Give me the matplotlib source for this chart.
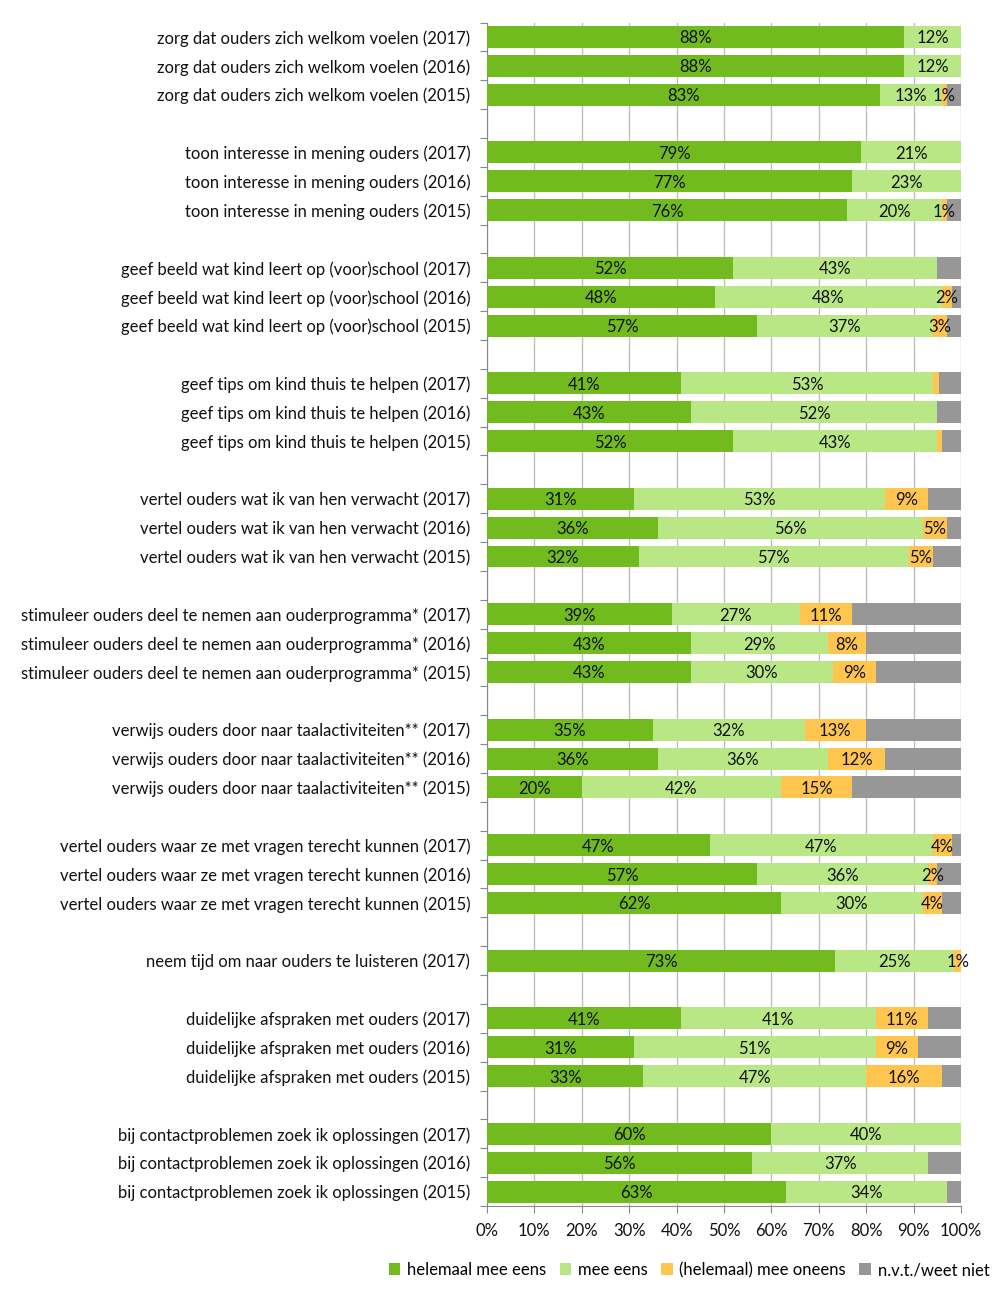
import matplotlib
matplotlib.use("Agg")
import matplotlib.pyplot as plt
from matplotlib.patches import Patch

plt.rcParams['font.family'] = ['Lato', 'DejaVu Sans']

# stellingen, per jaar (boven naar beneden); None = lege tussenregel
categories = [
    "zorg dat ouders zich welkom voelen (2017)",
    "zorg dat ouders zich welkom voelen (2016)",
    "zorg dat ouders zich welkom voelen (2015)",
    None,
    "toon interesse in mening ouders (2017)",
    "toon interesse in mening ouders (2016)",
    "toon interesse in mening ouders (2015)",
    None,
    "geef beeld wat kind leert op (voor)school (2017)",
    "geef beeld wat kind leert op (voor)school (2016)",
    "geef beeld wat kind leert op (voor)school (2015)",
    None,
    "geef tips om kind thuis te helpen (2017)",
    "geef tips om kind thuis te helpen (2016)",
    "geef tips om kind thuis te helpen (2015)",
    None,
    "vertel ouders wat ik van hen verwacht (2017)",
    "vertel ouders wat ik van hen verwacht (2016)",
    "vertel ouders wat ik van hen verwacht (2015)",
    None,
    "stimuleer ouders deel te nemen aan ouderprogramma* (2017)",
    "stimuleer ouders deel te nemen aan ouderprogramma* (2016)",
    "stimuleer ouders deel te nemen aan ouderprogramma* (2015)",
    None,
    "verwijs ouders door naar taalactiviteiten** (2017)",
    "verwijs ouders door naar taalactiviteiten** (2016)",
    "verwijs ouders door naar taalactiviteiten** (2015)",
    None,
    "vertel ouders waar ze met vragen terecht kunnen (2017)",
    "vertel ouders waar ze met vragen terecht kunnen (2016)",
    "vertel ouders waar ze met vragen terecht kunnen (2015)",
    None,
    "neem tijd om naar ouders te luisteren (2017)",
    None,
    "duidelijke afspraken met ouders (2017)",
    "duidelijke afspraken met ouders (2016)",
    "duidelijke afspraken met ouders (2015)",
    None,
    "bij contactproblemen zoek ik oplossingen (2017)",
    "bij contactproblemen zoek ik oplossingen (2016)",
    "bij contactproblemen zoek ik oplossingen (2015)",
]

# percentages (alleen de echte regels, zelfde volgorde)
helemaal_eens = [88, 88, 83, 79, 77, 76, 52, 48, 57, 41, 43, 52, 31, 36, 32,
                 39, 43, 43, 35, 36, 20, 47, 57, 62, 73.4, 41, 31, 33, 60, 56, 63]
mee_eens = [12, 12, 13, 21, 23, 20, 43, 48, 37, 53, 52, 43, 53, 56, 57,
            27, 29, 30, 32, 36, 42, 47, 36, 30, 25.2, 41, 51, 47, 40, 37, 34]
oneens = [0, 0, 1, 0, 0, 1, 0, 2, 3, 1.4, 0, 1, 9, 5, 5,
          11, 8, 9, 13, 12, 15, 4, 2, 4, 1.4, 11, 9, 16, 0, 0, 0]
nvt = [0, 0, 3, 0, 0, 3, 5, 2, 3, 4.6, 5, 4, 7, 3, 6,
       23, 20, 18, 20, 16, 23, 2, 5, 4, 0, 7, 9, 4, 0, 7, 3]
# oneens-labels die in de bron ontbreken
oneens_zonder_label = [9, 11]

series = [
    ("helemaal mee eens", helemaal_eens, "#72BB1F"),
    ("mee eens", mee_eens, "#B9E786"),
    ("(helemaal) mee oneens", oneens, "#FFC54F"),
    ("n.v.t./weet niet", nvt, "#979797"),
]

fig = plt.figure(figsize=(10.05, 13.01), dpi=100)
ax = fig.add_axes([487/1005, 1 - 1206/1301, (961-487)/1005, (1206-22.5)/1301])

n = len(categories)
rows = [i for i, c in enumerate(categories) if c is not None]

left = [0.0] * len(rows)
for s_idx, (name, vals, col) in enumerate(series):
    ax.barh(rows, vals, left=left, height=0.76, color=col, zorder=3)
    if s_idx < 3:
        for k, (y, v, l) in enumerate(zip(rows, vals, left)):
            if v <= 0:
                continue
            if s_idx == 2 and k in oneens_zonder_label:
                continue
            ax.text(l + v / 2, y, "%d%%" % round(v), ha="center", va="center_baseline",
                    fontsize=12, color="#111111", zorder=4)
    left = [a + b for a, b in zip(left, vals)]

ax.set_ylim(n - 0.5, -0.5)
ax.set_xlim(0, 100)

# category labels on minor ticks, tick marks on boundaries
ax.set_yticks([i - 0.5 for i in range(n + 1)])
ax.set_yticklabels([])
ax.set_yticks(rows, minor=True)
ax.set_yticklabels([categories[i] for i in rows], minor=True, fontsize=12, color="#111111")
ax.tick_params(axis="y", which="major", length=5, color="#888888", direction="out")
ax.tick_params(axis="y", which="minor", length=0, pad=12)

ax.set_xticks(range(0, 101, 10))
ax.set_xticklabels(["%d%%" % t for t in range(0, 101, 10)], fontsize=12, color="#111111")
ax.tick_params(axis="x", length=5, color="#888888", pad=7)
ax.grid(axis="x", color="#BFBFBF", linewidth=1, zorder=0)

for side in ["top", "right"]:
    ax.spines[side].set_visible(False)
for side in ["left", "bottom"]:
    ax.spines[side].set_color("#888888")

handles = [Patch(facecolor=c, edgecolor="none", label=nm) for nm, _, c in series]
fig.legend(handles=handles, loc="center", bbox_to_anchor=(689/1005, 1 - 1270/1301),
           ncol=4, frameon=False, fontsize=12, handlelength=0.7, handleheight=0.7,
           handletextpad=0.4, columnspacing=0.8)

fig.savefig("out.png", dpi=100)
